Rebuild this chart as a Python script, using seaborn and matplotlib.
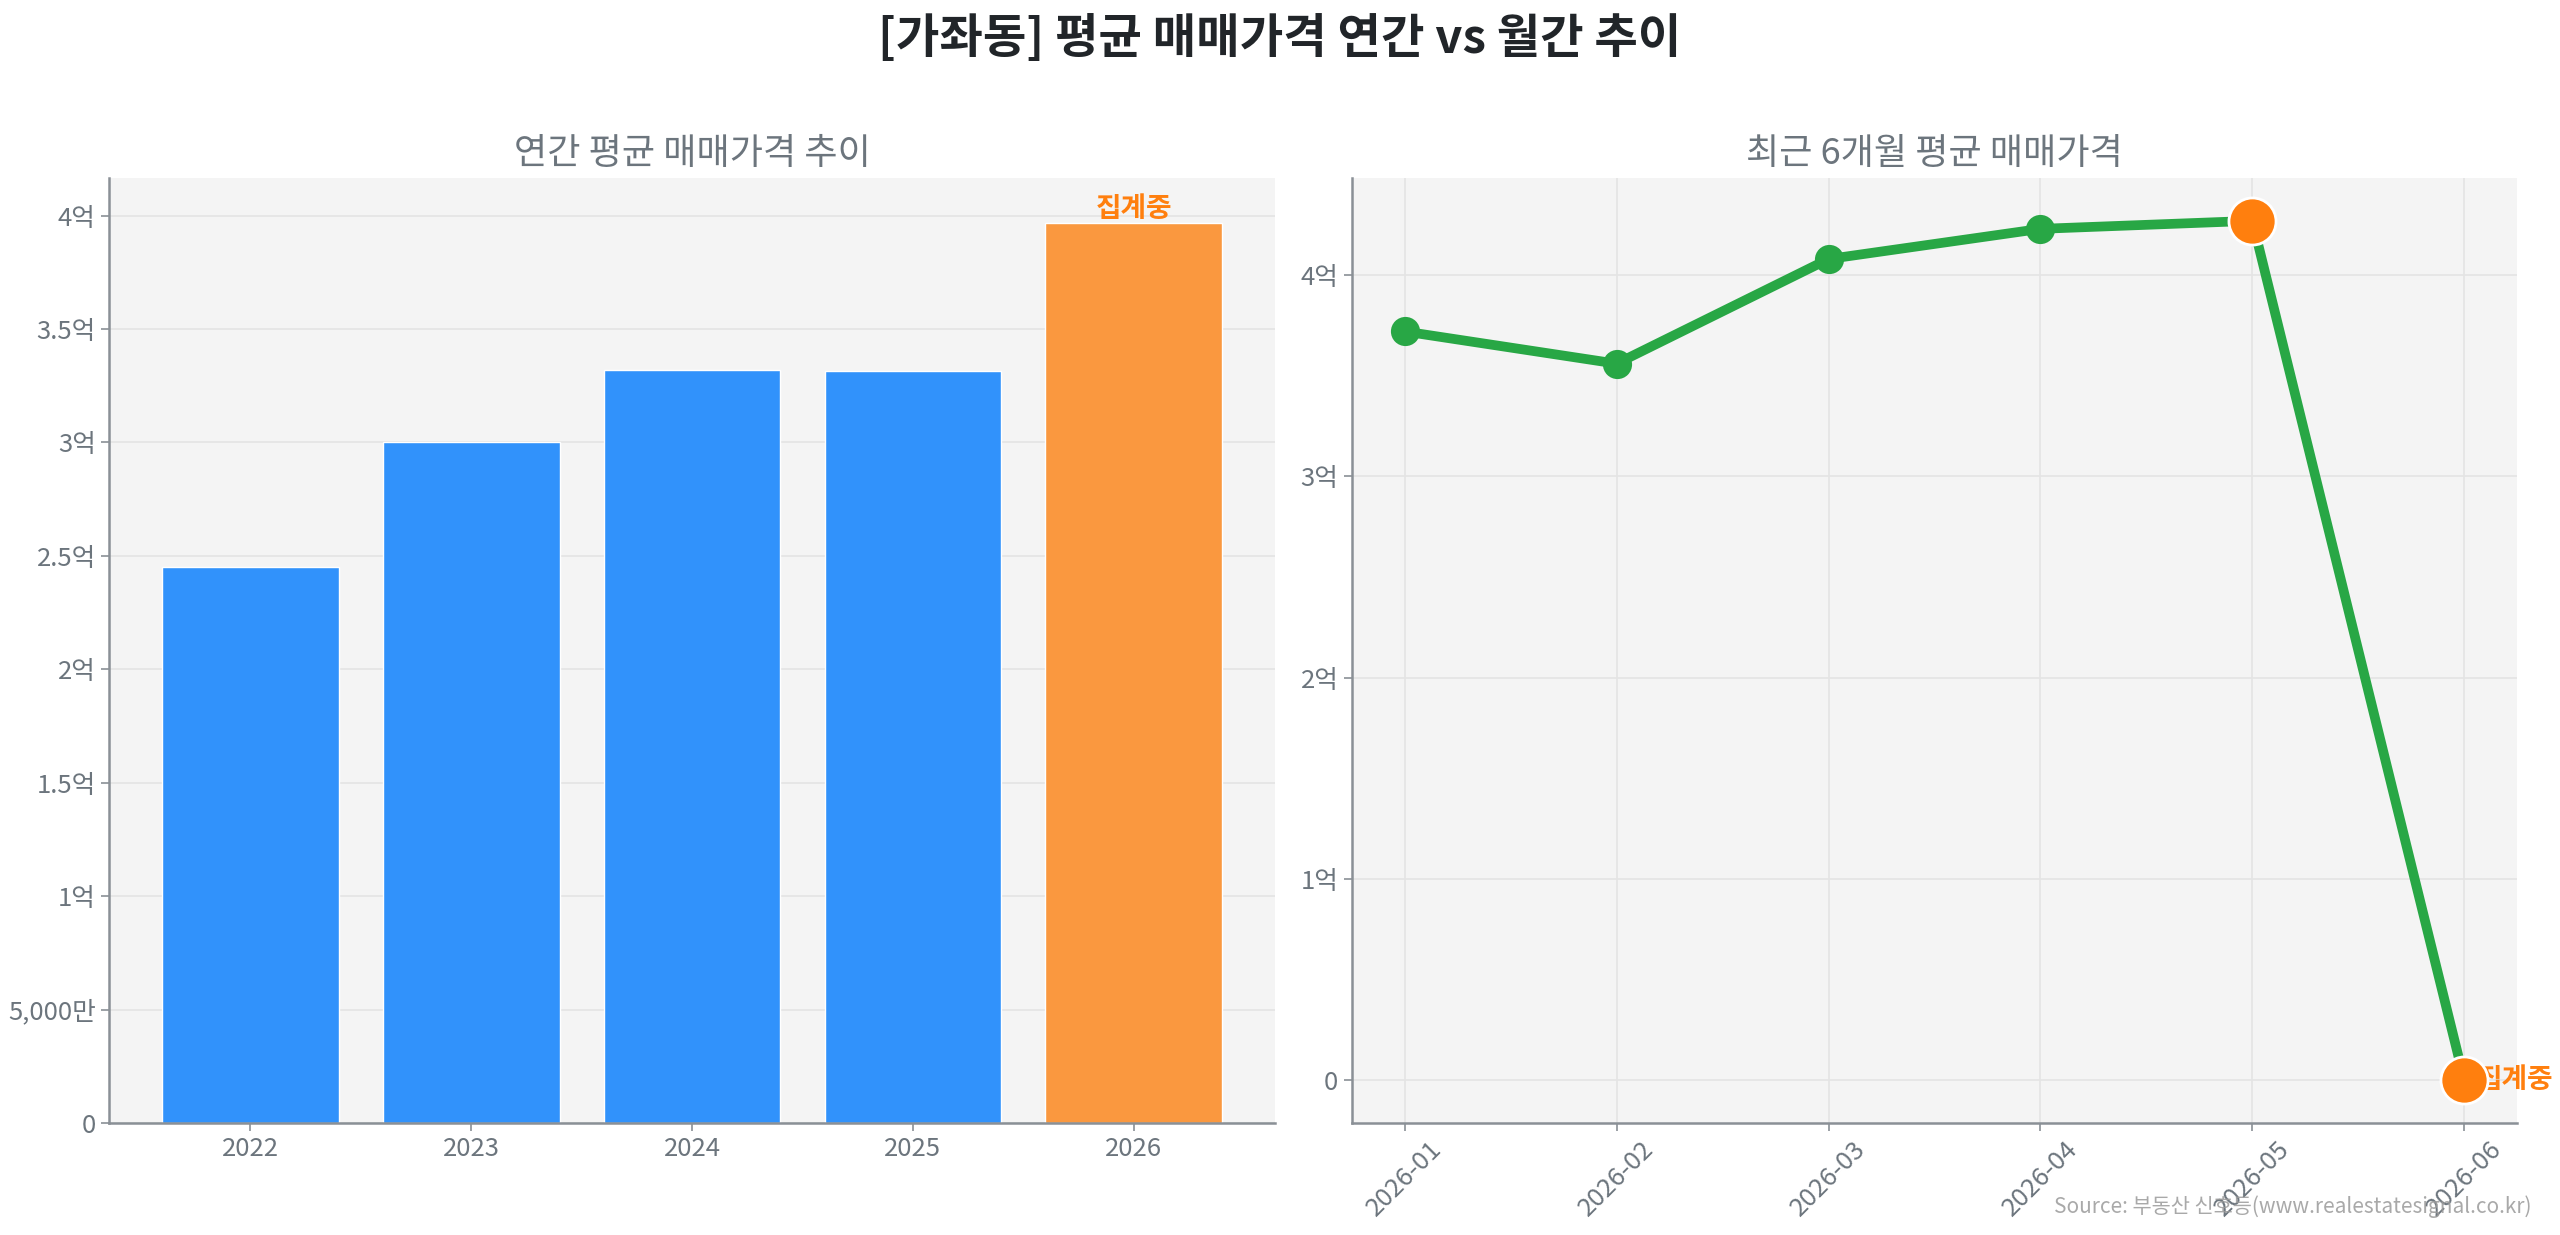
import matplotlib
matplotlib.use("Agg")
import matplotlib.pyplot as plt
import matplotlib.ticker as mticker
import seaborn as sns
import pandas as pd

# ---- data (values in 만원) ----
years = ["2022", "2023", "2024", "2025", "2026"]
yearly_avg = [24520, 30000, 33200, 33150, 39680]
yearly_colors = ["#3192FB", "#3192FB", "#3192FB", "#3192FB", "#FA983F"]

months = ["2026-01", "2026-02", "2026-03", "2026-04", "2026-05", "2026-06"]
monthly_avg = [37200, 35600, 40800, 42300, 42700, 0]
highlight_months = ["2026-05", "2026-06"]

suptitle = "[가좌동] 평균 매매가격 연간 vs 월간 추이"
title_left = "연간 평균 매매가격 추이"
title_right = "최근 6개월 평균 매매가격"
pending_label = "집계중"
source_text = "Source: 부동산 신호등(www.realestatesignal.co.kr)"

sns.set_theme(style="whitegrid")
plt.rcParams["font.family"] = ["Noto Sans CJK KR", "DejaVu Sans"]
plt.rcParams["axes.unicode_minus"] = False

TXT = "#6c757d"
GRID = "#e4e4e4"


def fmt(v, pos=None):
    if abs(v) < 1e-9:
        return "0"
    if abs(v) >= 10000:
        return f"{v / 10000:g}억"
    return f"{v:,.0f}만"


fig = plt.figure(figsize=(25.6, 12.35), dpi=100)
ax1 = fig.add_axes([0.0426, 0.0907, 0.4555, 0.7653])
ax2 = fig.add_axes([0.528, 0.0907, 0.4553, 0.7653])

for ax in (ax1, ax2):
    ax.set_facecolor("#F4F4F4")
    ax.grid(True, color=GRID, linewidth=1.2)
    ax.set_axisbelow(True)
    for s in ("top", "right"):
        ax.spines[s].set_visible(False)
    for s in ("left", "bottom"):
        ax.spines[s].set_color("#8a9096")
        ax.spines[s].set_linewidth(1.8)
    ax.tick_params(axis="both", colors="#8a9096", labelcolor=TXT, labelsize=18.5,
                   length=6, width=1.2, left=True, bottom=True)
    ax.yaxis.set_major_formatter(mticker.FuncFormatter(fmt))

# ---- left: yearly bars ----
df_y = pd.DataFrame({"year": years, "avg": yearly_avg})
sns.barplot(data=df_y, x="year", y="avg", hue="year", palette=yearly_colors,
            legend=False, ax=ax1, width=0.8, saturation=1)
n = len(years)
ax1.set_xlim(-0.4 - 0.05 * (n - 0.2), n - 0.6 + 0.05 * (n - 0.2))
ax1.set_ylim(0, max(yearly_avg) * 1.05)
ax1.yaxis.set_major_locator(mticker.MultipleLocator(5000))
ax1.set_xlabel("")
ax1.set_ylabel("")
ax1.set_title(title_left, fontsize=26, color=TXT, pad=10)
ax1.text(n - 1, yearly_avg[-1], pending_label, ha="center", va="bottom",
         fontsize=20, fontweight="bold", color="#FF7F0E")

# ---- right: monthly line ----
df_m = pd.DataFrame({"month": months, "avg": monthly_avg})
sns.lineplot(data=df_m, x="month", y="avg", ax=ax2, color="#28A745",
             linewidth=7, marker="o", markersize=21, markeredgewidth=0,
             sort=False, zorder=3)
df_h = df_m[df_m["month"].isin(highlight_months)]
sns.scatterplot(data=df_h, x="month", y="avg", ax=ax2, color="#FF7F0E",
                s=1150, edgecolor="white", linewidth=2, zorder=6, legend=False)
ax2.margins(x=0.05, y=0.05)
ax2.yaxis.set_major_locator(mticker.MultipleLocator(10000))
ax2.set_xlabel("")
ax2.set_ylabel("")
ax2.set_title(title_right, fontsize=26, color=TXT, pad=10)
for lbl in ax2.get_xticklabels():
    lbl.set_rotation(45)
    lbl.set_ha("center")
ax2.annotate(pending_label, xy=(len(months) - 1, monthly_avg[-1]),
             xytext=(9, 0), textcoords="offset points", ha="left", va="center",
             fontsize=20, fontweight="bold", color="#FF7F0E", zorder=5,
             annotation_clip=False)

fig.suptitle(suptitle, fontsize=34, fontweight="bold", color="#212529", y=0.988)
fig.text(0.989, 0.014, source_text, ha="right", va="bottom", fontsize=15,
         color="#9a9a9a", alpha=0.85)

fig.savefig("out.png", dpi=100)
